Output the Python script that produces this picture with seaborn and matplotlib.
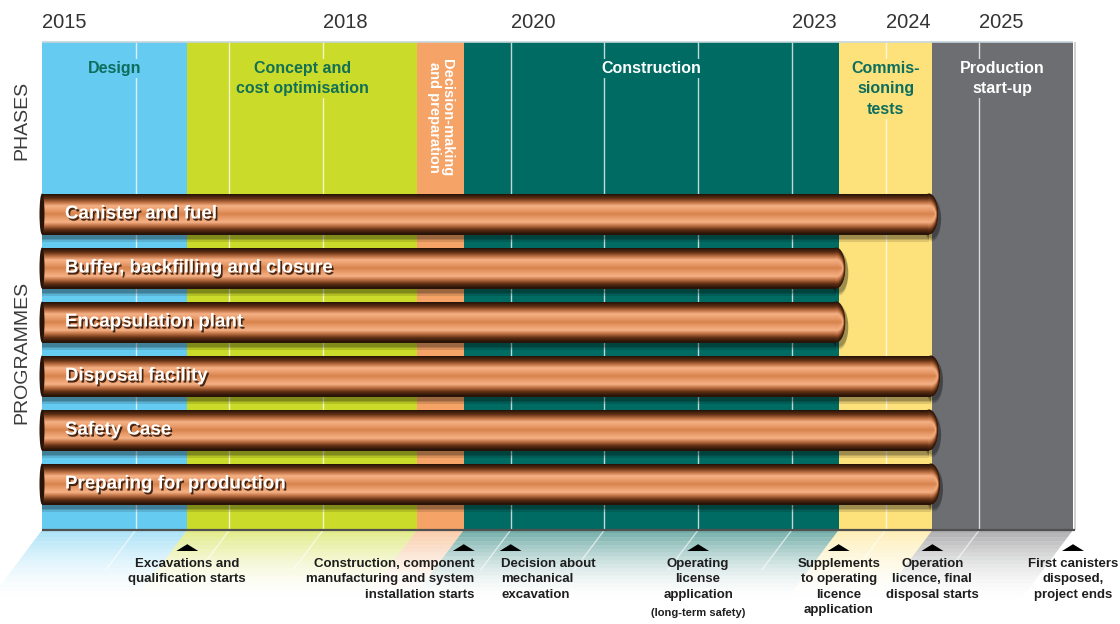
import matplotlib
matplotlib.use("Agg")
import matplotlib.pyplot as plt
import matplotlib.patheffects as pe
from matplotlib.patches import Ellipse
import seaborn as sns
import numpy as np

# ---- data -------------------------------------------------------------
phase_names = ["Design", "Concept and\ncost optimisation", "Decision-making\nand preparation",
               "Construction", "Commis-\nsioning\ntests", "Production\nstart-up"]
phase_start = [0.0, 1.55, 4.0, 4.5, 8.5, 9.5]
phase_end = [1.55, 4.0, 4.5, 8.5, 9.5, 11.0]

year_pos = [0, 3, 5, 8, 9, 10]
year_labels = ["2015", "2018", "2020", "2023", "2024", "2025"]
grid_pos = [1, 2, 3, 5, 6, 7, 8, 9, 10]

programmes = ["Canister and fuel", "Buffer, backfilling and closure", "Encapsulation plant",
              "Disposal facility", "Safety Case", "Preparing for production"]
prog_end = [9.56, 8.57, 8.57, 9.58, 9.56, 9.58]

milestone_x = [1.55, 4.5, 5.0, 7.0, 8.5, 9.5, 11.0]
milestone_text = ["Excavations and\nqualification starts",
                  "Construction, component\nmanufacturing and system\ninstallation starts",
                  "Decision about\nmechanical\nexcavation",
                  "Operating\nlicense\napplication",
                  "Supplements\nto operating\nlicence\napplication",
                  "Operation\nlicence, final\ndisposal starts",
                  "First canisters\ndisposed,\nproject ends"]

# ---- style ------------------------------------------------------------
phase_colors = ["#66cbf0", "#cbdb2a", "#f5a366", "#006b62", "#fde17b", "#6d6e71"]
phase_txt = ["#0d6e5e", "#127055", "white", "white", "#0d6e5e", "white"]
ms_ha = ["center", "right", "left", "center", "center", "center", "center"]
ms_dx = [0, 0.11, -0.10, 0, 0, 0, 0]

sns.set_theme(style="white")
plt.rcParams['font.family'] = ['Liberation Sans', 'DejaVu Sans']

PX = 93.73      # pixels per timeline unit
X0 = 42
TOP, BOT = 42, 530

fig = plt.figure(figsize=(11.2, 6.24), dpi=100)
ax = fig.add_axes([0, 0, 1, 1])
ax.set_xlim(-X0 / PX, (1120 - X0) / PX)
ax.set_ylim(624, 0)
ax.axis('off')

# phase columns
widths = np.subtract(phase_end, phase_start)
ax.barh((TOP + BOT) / 2, widths, left=phase_start, height=BOT - TOP,
        color=phase_colors, lw=0, zorder=0)
ax.vlines(grid_pos, TOP, BOT, color="white", lw=1, alpha=0.75, zorder=1)
ax.hlines(TOP, 0, 11, color="#c6d5dc", lw=1.2, zorder=1)
ax.vlines(11.02, TOP, BOT, color="#c8c8c8", lw=1.2, zorder=1)

# fading shadow under the columns
n_strip, depth, slant = 18, 68, 0.75
for x0, x1, c in zip(phase_start, phase_end, phase_colors):
    for j in range(n_strip):
        ya = BOT + j * depth / n_strip
        yb = ya + depth / n_strip
        sa = -(ya - BOT) * slant / PX
        sb = -(yb - BOT) * slant / PX
        a = 0.55 * (1 - j / n_strip) ** 1.8
        ax.fill([x0 + sa, x1 + sa, x1 + sb, x0 + sb], [ya, ya, yb, yb],
                color=c, alpha=a, lw=0, zorder=0)
for g in grid_pos:
    ax.plot([g, g - 40 * slant / PX], [BOT, BOT + 40], color="white", lw=1, alpha=0.6, zorder=1)
ax.hlines(BOT, 0, 11.02, color="#505050", lw=1.6, zorder=2)

# phase labels
for i, (name, s, e) in enumerate(zip(phase_names, phase_start, phase_end)):
    xc = (s + e) / 2
    if i == 2:
        ax.text(xc, 59, name, rotation=-90, ha="center", va="top", fontsize=10.5,
                fontweight="bold", color="white", linespacing=0.95, zorder=2)
    else:
        ax.text(xc, 61, name, ha="center", va="top", fontsize=11.5, fontweight="bold",
                color=phase_txt[i], linespacing=1.45, zorder=2,
                bbox=dict(facecolor=phase_colors[i], edgecolor="none", pad=1.5))

# year labels
for p, lab in zip(year_pos, year_labels):
    ax.text(p, 22, lab, ha="left", va="center", fontsize=14.5, color="#333333")

ax.text(-0.22, 120, "PHASES", rotation=90, ha="center", va="center", fontsize=14, color="#3a3a3a")
ax.text(-0.22, 352, "PROGRAMMES", rotation=90, ha="center", va="center", fontsize=14, color="#3a3a3a")

# copper programme bars
H = 41
cap = 9 / PX
n_layer = 20
copper = sns.blend_palette(["#2a1407", "#5e2f14", "#b86b3e", "#f4b084", "#ea9d6d", "#d98650"], n_layer)
for i, (name, end) in enumerate(zip(programmes, prog_end)):
    yc = 214 + 54 * i
    # soft shadow
    for k, al in enumerate([0.12, 0.14, 0.16]):
        ax.barh(yc + 5, end - cap, left=0, height=H + 4 - 3 * k, color="black", alpha=al, lw=0, zorder=3)
        ax.add_patch(Ellipse((end - cap + 3 / PX, yc + 5), 2 * cap, H + 4 - 3 * k,
                             color="black", alpha=al, lw=0, zorder=3))
    for k in range(n_layer):
        frac = 1 - k / n_layer
        h = H * frac
        ax.barh(yc, end - cap, left=0, height=h, color=copper[k], lw=0, zorder=4)
        ax.add_patch(Ellipse((end - cap, yc), 2 * cap * (0.55 + 0.45 * frac), h,
                             color=copper[k], lw=0, zorder=4))
    ax.add_patch(Ellipse((0, yc), 5 / PX, H, color="#2a1407", lw=0, zorder=4))
    ax.text(0.245, yc, name, ha="left", va="center", fontsize=13.5, fontweight="bold",
            color="white", zorder=5,
            path_effects=[pe.SimplePatchShadow(offset=(1.2, -1.5), shadow_rgbFace="#2a1206", alpha=0.85),
                          pe.Normal()])

# milestones
tri = [(-1, 0), (1, 0), (0, 0.62)]
sns.scatterplot(x=milestone_x, y=[551] * len(milestone_x), marker=tri, s=250, color="black",
                edgecolor="none", ax=ax, zorder=6, legend=False)
for x, t, ha, dx in zip(milestone_x, milestone_text, ms_ha, ms_dx):
    ax.text(x + dx, 558, t, ha=ha, va="top", multialignment=ha, fontsize=9.5, fontweight="bold",
            color="#1e1e1e", linespacing=1.38, zorder=6)
ax.text(milestone_x[3], 613, "(long-term safety)", ha="center", va="center", fontsize=8,
        fontweight="bold", color="#1e1e1e")

fig.savefig("out.png", dpi=100)
